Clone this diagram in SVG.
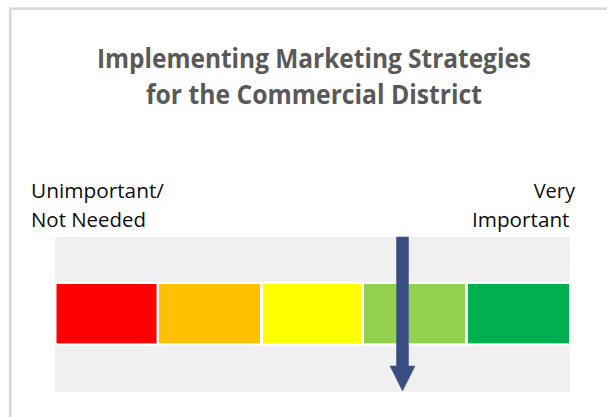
<svg xmlns="http://www.w3.org/2000/svg" width="607" height="417" viewBox="0 0 607 417">
  <style>
    .title { font-family: "Open Sans", "Liberation Sans", sans-serif; font-weight: bold; font-size: 26px; fill: #595959; }
    .lbl { font-family: "Open Sans", "Liberation Sans", sans-serif; font-size: 20px; fill: #0d0d0d; }
    .seg { stroke: none; }
  </style>
  <rect width="607" height="417" fill="#ffffff"/>
  <g id="frame">
    <rect x="10.3" y="8.7" width="620" height="430" fill="none" stroke="#d9d9d9" stroke-width="2.6"/>
  </g>
  <g id="title">
    <text class="title" x="97" y="67.5" textLength="434" lengthAdjust="spacingAndGlyphs">Implementing Marketing Strategies</text>
    <text class="title" x="146" y="104" textLength="336" lengthAdjust="spacingAndGlyphs">for the Commercial District</text>
  </g>
  <g id="label-left">
    <text class="lbl" x="31" y="197.7" textLength="133" lengthAdjust="spacingAndGlyphs">Unimportant/</text>
    <text class="lbl" x="31" y="226.7" textLength="115" lengthAdjust="spacingAndGlyphs">Not Needed</text>
  </g>
  <g id="label-right">
    <text class="lbl" x="575" y="197.7" text-anchor="end">Very</text>
    <text class="lbl" x="472" y="226.7" textLength="97.5" lengthAdjust="spacingAndGlyphs">Important</text>
  </g>
  <g id="scale-band">
    <rect x="55" y="237" width="515" height="155" fill="#f0f0f0"/>
    <rect x="55" y="281.8" width="515" height="64" fill="#ffffff"/>
  </g>
  <g id="seg-1"><rect class="seg" x="56.5" y="284" width="100" height="59.4" fill="#ff0000"/></g>
  <g id="seg-2"><rect class="seg" x="159" y="284" width="101" height="59.4" fill="#ffc000"/></g>
  <g id="seg-3"><rect class="seg" x="263" y="284" width="98.5" height="59.4" fill="#ffff00"/></g>
  <g id="seg-4"><rect class="seg" x="364" y="284" width="101" height="59.4" fill="#92d050"/></g>
  <g id="seg-5"><rect class="seg" x="468" y="284" width="101" height="59.4" fill="#00b050"/></g>
  <g id="connectors">
    <polygon points="396.5,237 408.5,237 408.5,366 415,366 402.5,391 390,366 396.5,366" fill="#384e81" stroke="#4a5f8e" stroke-width="0.6"/>
  </g>
</svg>
